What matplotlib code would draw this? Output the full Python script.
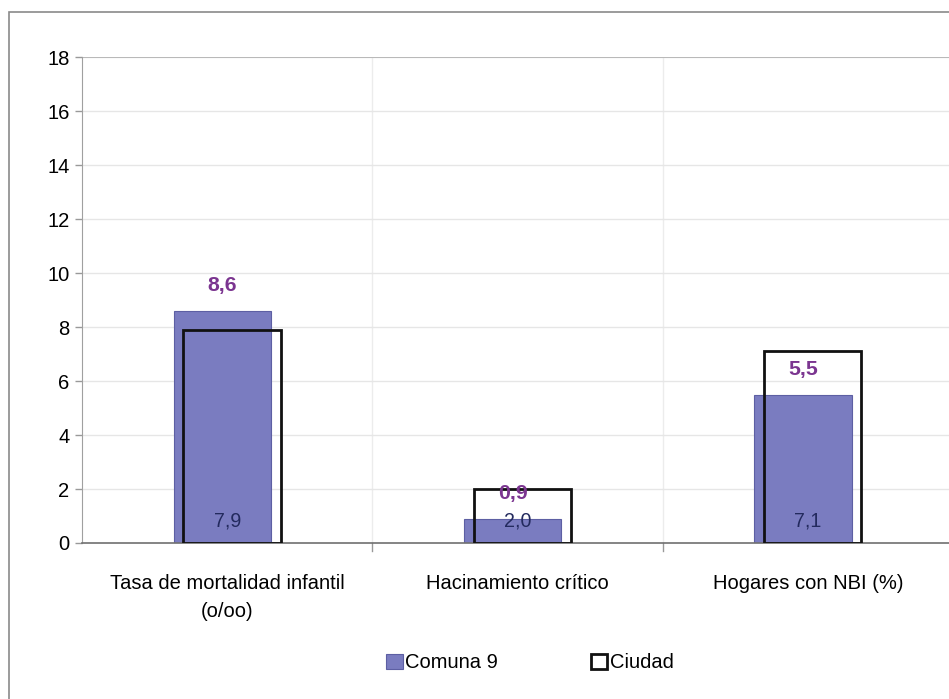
import numpy as np
import matplotlib.pyplot as plt
from matplotlib import font_manager
from matplotlib.patches import Rectangle

nombres = {f.name for f in font_manager.fontManager.ttflist}
if 'Liberation Sans Narrow' in nombres:
    plt.rcParams['font.family'] = ['Liberation Sans Narrow', 'DejaVu Sans']
    escala = 1.0
else:
    plt.rcParams['font.family'] = ['Liberation Sans', 'DejaVu Sans']
    escala = 0.83

# datos
categorias = ['Tasa de mortalidad infantil\n(o/oo)', 'Hacinamiento crítico', 'Hogares con NBI (%)']
comuna9 = [8.6, 0.9, 5.5]
ciudad = [7.9, 2.0, 7.1]
etiquetas_comuna = ['8,6', '0,9', '5,5']
etiquetas_ciudad = ['7,9', '2,0', '7,1']
yticks = [0, 2, 4, 6, 8, 10, 12, 14, 16, 18]

fs = 17.5 * escala

fig = plt.figure(figsize=(9.49, 6.99), dpi=100)
fig.patch.set_facecolor('white')

# marco exterior del grafico
fig.patches.append(Rectangle((9 / 949, -0.05), 1.2, 1 - 12 / 699 + 0.05,
                             transform=fig.transFigure, fill=False,
                             edgecolor='#8a8a8a', linewidth=1.2))

ax = fig.add_axes([82 / 949, 1 - 543 / 699, 871 / 949, 486 / 699])

x = np.arange(len(categorias))
ancho = 0.335
desp = 0.017

ax.bar(x - desp, comuna9, width=ancho, color='#7a7cc0', edgecolor='#5d5fa3',
       linewidth=0.8, zorder=2, label='Comuna 9')
ax.bar(x + desp, ciudad, width=ancho, facecolor='none', edgecolor='#111111',
       linewidth=2.0, zorder=3, label='Ciudad')

for xi, v, t in zip(x, comuna9, etiquetas_comuna):
    ax.annotate(t, xy=(xi - desp, v), xytext=(0, 18), textcoords='offset points',
                ha='center', va='center', fontsize=18.5 * escala, fontweight='bold',
                color='#7b3590', zorder=4)
for xi, t in zip(x, etiquetas_ciudad):
    ax.annotate(t, xy=(xi, 0), xytext=(0, 16), textcoords='offset points',
                ha='center', va='center', fontsize=17 * escala, color='#232a5e', zorder=4)

ax.set_xlim(-0.5, 2.5)
ax.set_ylim(0, 18)
ax.set_yticks(yticks)
ax.set_yticklabels([str(v) for v in yticks], fontsize=17.5 * escala)
ax.set_xticks(x)
ax.set_xticklabels(categorias, fontsize=fs, linespacing=1.6)
ax.tick_params(axis='x', length=0, pad=22)
ax.tick_params(axis='y', length=5, width=1, color='#999999', pad=4)

# separadores de categoria y cuadricula
ax.set_axisbelow(True)
ax.yaxis.grid(True, color='#e6e6e6', linewidth=1)
for b in [0.5, 1.5]:
    ax.axvline(b, color='#ececec', linewidth=1, zorder=0)
    ax.plot([b, b], [0, -0.3], color='#999999', linewidth=1, clip_on=False)
ax.axhline(18, color='#b0b0b0', linewidth=1.2, zorder=1)

for s in ['top', 'right']:
    ax.spines[s].set_visible(False)
ax.spines['left'].set_color('#a0a0a0')
ax.spines['bottom'].set_color('#707070')
ax.spines['bottom'].set_linewidth(1.2)

fig.legend(loc='center', bbox_to_anchor=(530 / 949, 1 - 663 / 699), ncol=2,
           frameon=False, fontsize=fs, handlelength=0.82, handleheight=0.82,
           handletextpad=0.12, columnspacing=4.6)

fig.savefig('out.png', dpi=100, facecolor='white')
